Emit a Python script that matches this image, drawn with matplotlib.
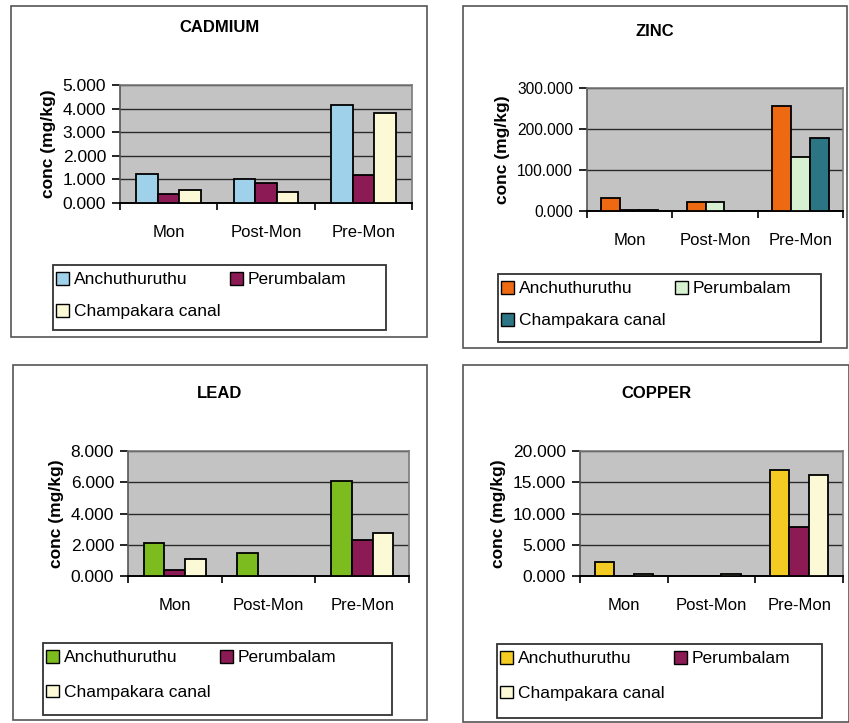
import numpy as np
import matplotlib.pyplot as plt
import matplotlib.patches as mpatches

plt.rcParams['font.family'] = ['Liberation Sans', 'DejaVu Sans']

# ── data (mg/kg) ─────────────────────────────────────────
SEASONS = ['Mon', 'Post-Mon', 'Pre-Mon']
SITES = ['Anchuthuruthu', 'Perumbalam', 'Champakara canal']

cadmium_anch = [1.22, 1.00, 4.15]
cadmium_perum = [0.38, 0.85, 1.18]
cadmium_champ = [0.53, 0.47, 3.80]

zinc_anch = [31.0, 23.0, 257.0]
zinc_perum = [2.0, 23.0, 132.0]
zinc_champ = [2.0, 0.0, 178.0]

lead_anch = [2.10, 1.45, 6.08]
lead_perum = [0.40, 0.0, 2.28]
lead_champ = [1.12, 0.0, 2.78]

copper_anch = [2.25, 0.0, 17.0]
copper_perum = [0.0, 0.0, 7.85]
copper_champ = [0.35, 0.35, 16.2]

W, H = 849, 723
BG_PLOT = '#c3c3c3'
MAROON = '#8c1a55'
CREAM = '#fbf9d6'

# panel: title, series, colours, ymax, ystep, tick fontsize, legend row gap,
#        border box, axes box, legend box (px, top-left origin)
PANELS = [
    ('CADMIUM', (cadmium_anch, cadmium_perum, cadmium_champ),
     ('#9fd2ea', MAROON, CREAM), 5.0, 1.0, 12.5, 0.95,
     (11, 6, 427, 337), (120, 85, 412, 203), (53, 265, 386, 330)),
    ('ZINC', (zinc_anch, zinc_perum, zinc_champ),
     ('#ee6a12', '#d8f0d2', '#2c7585'), 300.0, 100.0, 11.2, 0.95,
     (463, 6, 847, 348), (587, 88, 843, 211), (498, 274, 821, 342)),
    ('LEAD', (lead_anch, lead_perum, lead_champ),
     ('#7cbc1e', MAROON, CREAM), 8.0, 2.0, 12.5, 1.1,
     (13, 365, 427, 720), (128, 451, 409, 576), (43, 643, 392, 715)),
    ('COPPER', (copper_anch, copper_perum, copper_champ),
     ('#f3cb22', MAROON, CREAM), 20.0, 5.0, 12.5, 1.1,
     (463, 365, 849, 722), (580, 451, 843, 576), (497, 644, 822, 718)),
]


def fbox(x0, y0, x1, y1):
    # pixel box (top-left origin) -> figure fraction [left, bottom, width, height]
    return [x0 / W, 1 - y1 / H, (x1 - x0) / W, (y1 - y0) / H]


fig = plt.figure(figsize=(W / 100, H / 100), dpi=100)
fig.patch.set_facecolor('white')

bw = 1 / 4.5
x = np.arange(3) + 0.5

for title, series, colors, ymax, ystep, tfs, lsp, border, axbox, legbox in PANELS:
    l, b, w, h = fbox(*border)
    fig.add_artist(mpatches.Rectangle((l, b), w, h, transform=fig.transFigure,
                                      facecolor='none', edgecolor='#555555', lw=1.2))
    fig.text(l + w / 2, 1 - (axbox[1] - 57) / H, title, ha='center', va='center',
             fontsize=12, fontweight='bold', color='black')

    ax = fig.add_axes(fbox(*axbox))
    ax.set_facecolor(BG_PLOT)
    handles = []
    for k, (vals, col) in enumerate(zip(series, colors)):
        ax.bar(x + (k - 1) * bw, vals, width=bw, color=col,
               edgecolor='black', linewidth=1.3, zorder=3)
        handles.append(mpatches.Patch(facecolor=col, edgecolor='black',
                                      linewidth=1.0, label=SITES[k]))
    ax.set_xlim(0, 3)
    ax.set_ylim(0, ymax)
    yt = np.arange(0, ymax + ystep / 2, ystep)
    ax.set_yticks(yt)
    ax.set_yticklabels([f'{v:.3f}' for v in yt], fontsize=tfs)
    ax.yaxis.grid(True, color='#2a2a2a', lw=1.0, zorder=1)
    ax.set_axisbelow(True)
    ax.set_xticks([0, 1, 2, 3])
    ax.set_xticklabels([])
    ax.set_xticks(x, minor=True)
    ax.set_xticklabels(SEASONS, minor=True, fontsize=12)
    ax.tick_params(axis='x', which='minor', length=0, pad=16)
    ax.tick_params(axis='x', which='major', length=5, width=1.2, direction='out')
    ax.tick_params(axis='y', length=6, width=1.2, direction='out', pad=4)
    for s in ('top', 'right'):
        ax.spines[s].set_color('#7a7a7a')
        ax.spines[s].set_linewidth(1.2)
    ax.spines['left'].set_color('#555555')
    ax.spines['left'].set_linewidth(1.2)
    ax.spines['bottom'].set_color('black')
    ax.spines['bottom'].set_linewidth(1.4)
    ax.set_ylabel('conc (mg/kg)', fontsize=12.5, fontweight='bold', labelpad=5)

    # legend frame drawn at a fixed size, entries packed to the left inside it
    ll, lb, lw_, lh = fbox(*legbox)
    fig.add_artist(mpatches.Rectangle((ll, lb), lw_, lh, transform=fig.transFigure,
                                      facecolor='white', edgecolor='#333333', lw=1.3))
    fig.legend(handles=[handles[0], handles[2], handles[1]], ncol=2,
               loc='upper left', bbox_to_anchor=(ll + 3 / W, lb + lh - 7 / H),
               bbox_transform=fig.transFigure,
               fontsize=12.5, frameon=False,
               handlelength=0.75, handleheight=0.75, handletextpad=0.3,
               columnspacing=0.5, labelspacing=lsp, borderpad=0.0,
               borderaxespad=0)

fig.savefig('out.png', dpi=100, facecolor='white')
